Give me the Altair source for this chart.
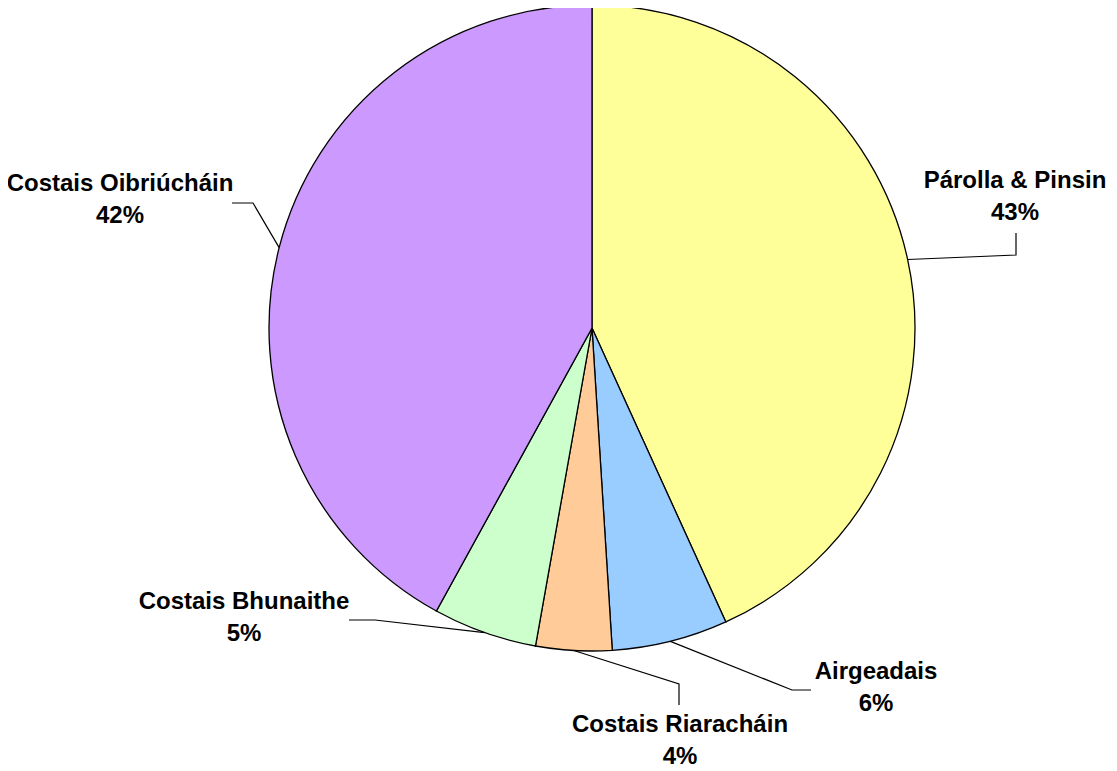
import math
import altair as alt
import pandas as pd

# ---- data ----
names = ["Párolla & Pinsin", "Airgeadais", "Costais Riaracháin", "Costais Bhunaithe", "Costais Oibriúcháin"]
values = [43.2, 5.8, 3.8, 5.2, 42.0]
pct_labels = ["43%", "6%", "4%", "5%", "42%"]
colors = ["#FFFF99", "#99CCFF", "#FFCC99", "#CCFFCC", "#CC99FF"]

# ---- layout (page pixel coordinates) ----
W, H = 1101, 762
CX, CY, R = 592, 328, 323          # pie centre / radius on the page
elbows = [[(1016, 255), (1016, 233)],
          [(792, 690), (811, 690)],
          [(679, 684), (679, 705)],
          [(375, 620), (349, 620)],
          [(253, 203), (232, 203)]]
label_pos = [(1015, 181), (876, 672), (680, 725), (244, 602), (120, 184)]

total = sum(values)
pie = pd.DataFrame({"name": names, "value": values, "idx": list(range(len(names)))})

line_rows, text_rows = [], []
cum = 0.0
for i, (n, v) in enumerate(zip(names, values)):
    mid = (cum + v / 2) / total * 2 * math.pi
    cum += v
    ex, ey = CX + R * math.sin(mid), CY - R * math.cos(mid)
    pts = [(ex, ey)] + elbows[i]
    for k, (px, py) in enumerate(pts):
        line_rows.append({"name": n, "k": k, "x": px, "y": py})
    text_rows.append({"name": n, "x": label_pos[i][0], "y": label_pos[i][1],
                      "label": f"{n}\n{pct_labels[i]}"})
lines = pd.DataFrame(line_rows)
texts = pd.DataFrame(text_rows)

xs = alt.Scale(domain=[8, 8 + W], range=[0, W])
ys = alt.Scale(domain=[8 + H, 8], range=[H, 0])

arcs = alt.Chart(pie).mark_arc(outerRadius=R, stroke="black", strokeWidth=1.3).encode(
    theta=alt.Theta("value:Q", stack=True),
    order=alt.Order("idx:Q"),
    color=alt.Color("name:N", scale=alt.Scale(domain=names, range=colors), legend=None),
    x=alt.value(CX - 8), y=alt.value(CY - 8),
)

leader = alt.Chart(lines).mark_line(color="black", strokeWidth=1.2).encode(
    x=alt.X("x:Q", scale=xs, axis=None),
    y=alt.Y("y:Q", scale=ys, axis=None),
    detail="name:N",
    order="k:Q",
)

labels = alt.Chart(texts).mark_text(
    font="Liberation Sans", fontSize=24, fontWeight="bold", align="center",
    baseline="middle", lineBreak="\n", lineHeight=32, color="black",
).encode(
    x=alt.X("x:Q", scale=xs, axis=None),
    y=alt.Y("y:Q", scale=ys, axis=None),
    text="label:N",
)

chart = alt.layer(arcs, leader, labels).properties(
    width=W, height=H, autosize=alt.AutoSizeParams(type="none"), padding=0,
).resolve_scale(color="independent").configure_view(strokeWidth=0)

chart.save("out.html", embed_options={"renderer": "svg", "actions": False})
